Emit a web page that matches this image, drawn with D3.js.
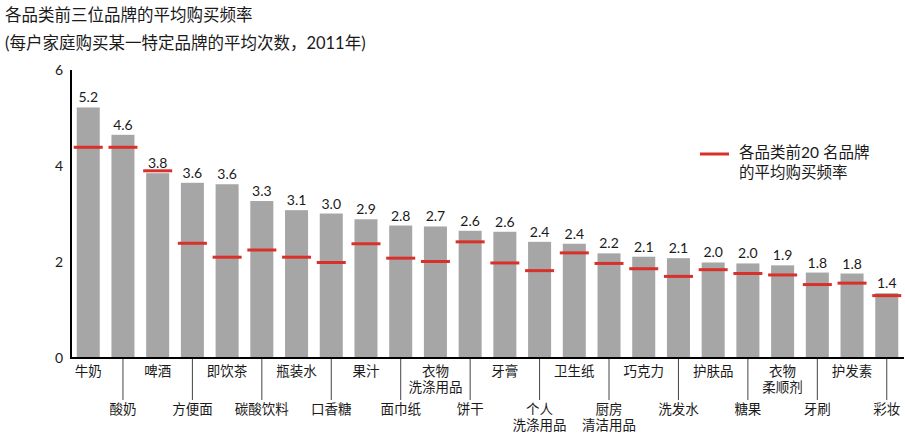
<!DOCTYPE html>
<html><head><meta charset="utf-8">
<script src="https://cdn.jsdelivr.net/npm/d3@7"></script>
<style>
body{margin:0;background:#fff;}
text{font-family:"Lato","Noto Sans CJK SC",sans-serif;fill:#1a1a1a;}
</style></head>
<body><svg id="c" width="905" height="434"></svg>
<script>
const categories = [["牛奶"],["酸奶"],["啤酒"],["方便面"],["即饮茶"],["碳酸饮料"],["瓶装水"],["口香糖"],["果汁"],["面巾纸"],["衣物","洗涤用品"],["饼干"],["牙膏"],["个人","洗涤用品"],["卫生纸"],["厨房","清洁用品"],["巧克力"],["洗发水"],["护肤品"],["糖果"],["衣物","柔顺剂"],["牙刷"],["护发素"],["彩妆"]];
const top3Values = [5.22,4.65,3.85,3.65,3.62,3.27,3.08,3.01,2.89,2.76,2.74,2.65,2.63,2.42,2.38,2.18,2.11,2.08,1.99,1.97,1.93,1.78,1.76,1.35];
const valueLabels = ["5.2","4.6","3.8","3.6","3.6","3.3","3.1","3.0","2.9","2.8","2.7","2.6","2.6","2.4","2.4","2.2","2.1","2.1","2.0","2.0","1.9","1.8","1.8","1.4"];
const top20Values = [4.39,4.39,3.90,2.39,2.10,2.25,2.10,1.99,2.38,2.08,2.01,2.42,1.98,1.82,2.19,1.97,1.86,1.70,1.84,1.76,1.73,1.53,1.56,1.30];
const yTicks = [0,2,4,6];
const titleLines = ["各品类前三位品牌的平均购买频率","(每户家庭购买某一特定品牌的平均次数，2011年)"];
const legendLines = ["各品类前20 名品牌","的平均购买频率"];

const svg = d3.select("#c");
const idx = d3.range(categories.length);
const x = d3.scaleBand().domain(idx).range([71,904]).paddingInner(0.337).paddingOuter(0.165);
const y = d3.scaleLinear().domain([0,6]).range([358,70]);
const red = "#d8302a";

// title
svg.selectAll("text.title").data(titleLines).join("text").attr("class","title")
  .attr("x",5).attr("y",(d,i)=>21+i*28).attr("font-size",16.5).text(d=>d);

// bars
svg.selectAll("rect.bar").data(idx).join("rect").attr("class","bar")
  .attr("x",i=>x(i)).attr("width",x.bandwidth())
  .attr("y",i=>y(top3Values[i])).attr("height",i=>y(0)-y(top3Values[i]))
  .attr("fill","#a6a6a6");

// value labels
svg.selectAll("text.val").data(idx).join("text").attr("class","val")
  .attr("x",i=>x(i)+x.bandwidth()/2).attr("y",i=>y(top3Values[i])-5)
  .attr("text-anchor","middle").attr("font-size",14).text(i=>valueLabels[i]);

// red markers
const mw = 29;
svg.selectAll("line.mark").data(idx).join("line").attr("class","mark")
  .attr("x1",i=>x(i)+x.bandwidth()/2-mw/2).attr("x2",i=>x(i)+x.bandwidth()/2+mw/2)
  .attr("y1",i=>y(top20Values[i])).attr("y2",i=>y(top20Values[i]))
  .attr("stroke",red).attr("stroke-width",3);

// y axis
const yAxis = d3.axisLeft(y).tickValues(yTicks).tickFormat(d3.format("d")).tickSize(0).tickPadding(8);
const gy = svg.append("g").attr("transform","translate(71,0)").call(yAxis);
gy.select(".domain").remove();
gy.selectAll("text").attr("font-size",14).attr("font-family","Lato,sans-serif").attr("fill","#1a1a1a");
svg.append("line").attr("x1",71).attr("x2",71).attr("y1",y(6)).attr("y2",y(0)+1).attr("stroke","#000").attr("stroke-width",2);
svg.append("line").attr("x1",70).attr("x2",904).attr("y1",y(0)).attr("y2",y(0)).attr("stroke","#000").attr("stroke-width",2);

// category separators (lines at odd indices)
svg.selectAll("line.sep").data(idx.filter(i=>i%2===1)).join("line").attr("class","sep")
  .attr("x1",i=>x(i)+x.bandwidth()/2).attr("x2",i=>x(i)+x.bandwidth()/2)
  .attr("y1",y(0)+1).attr("y2",400).attr("stroke","#444").attr("stroke-width",1);

// category labels (one text element per line)
const catLines = [];
idx.forEach(i => categories[i].forEach((t,j) => catLines.push({i, j, t})));
svg.selectAll("text.cat").data(catLines).join("text").attr("class","cat")
  .attr("text-anchor","middle").attr("font-size",13.5)
  .attr("x",d=>x(d.i)+x.bandwidth()/2)
  .attr("y",d=>(d.i%2===0?376:414)+d.j*16)
  .text(d=>d.t);

// legend
svg.append("line").attr("x1",700).attr("x2",729).attr("y1",154).attr("y2",154).attr("stroke",red).attr("stroke-width",3);
svg.selectAll("text.leg").data(legendLines).join("text").attr("class","leg")
  .attr("x",739).attr("y",(d,i)=>158+i*20).attr("font-size",15.5).text(d=>d);
</script></body></html>
